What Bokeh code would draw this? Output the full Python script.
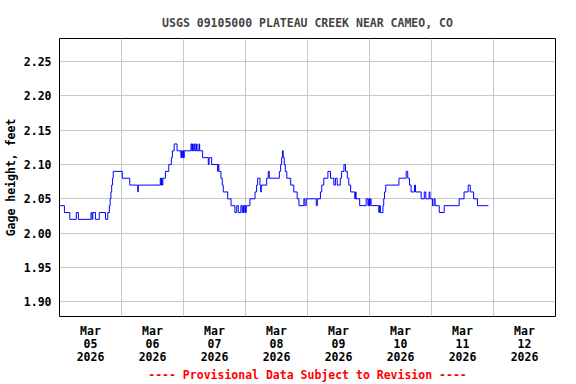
from bokeh.plotting import figure
from bokeh.models import Range1d, FixedTicker
from bokeh.embed import file_html
from bokeh.resources import INLINE

# ---------------- data ----------------
chart_title = "USGS 09105000 PLATEAU CREEK NEAR CAMEO, CO"
footer_text = "---- Provisional Data Subject to Revision ----"
y_axis_label = "Gage height, feet"
month_name = "Mar"
year_name = "2026"
day_names = ["05", "06", "07", "08", "09", "10", "11", "12"]
y_ticks = [1.90, 1.95, 2.00, 2.05, 2.10, 2.15, 2.20, 2.25]

# hours since 2026-03-05 00:00 at which the reading changes
hours = [0, 1.9, 4.0, 6.5, 7.3, 12.2, 12.6, 12.9, 13.9, 15.4, 17.8, 18.7,
         19.3, 19.6, 19.9, 20.2, 20.5, 20.8, 24.3, 27.2, 30.3, 30.5,
         39.0, 39.25, 39.5, 39.75, 40.0, 41.0, 42.3, 43.3, 43.7, 44.4,
         45.5, 47.0, 47.25, 47.5, 47.75, 48.0, 48.3, 50.9, 51.2, 51.5,
         51.75, 52.2, 52.5, 53.0, 53.25, 54.0, 54.25, 55.4, 57.6, 57.9,
         58.9, 61.2, 61.4, 61.7, 62.5, 63.0, 63.4, 65.1, 66.4, 67.9,
         68.6, 69.2, 70.2, 70.7, 71.0, 71.25, 71.5, 72.0, 72.3, 73.7,
         75.7, 76.3, 76.7, 77.6, 77.9, 78.1, 80.2, 80.8, 81.2, 85.1,
         85.6, 86.0, 86.3, 86.6, 87.0, 87.4, 88.0, 89.5, 90.7, 92.0,
         92.7, 94.6, 95.0, 95.5, 99.4, 99.8, 101.0, 101.5, 102.3, 103.9,
         104.9, 106.2, 106.8, 107.5, 108.7, 109.2, 110.1, 110.7, 111.4,
         112.0, 112.7, 114.3, 114.6, 114.8, 116.2, 118.7, 119.4, 119.7,
         120.0, 120.3, 120.6, 123.6, 123.9, 124.2, 125.2, 125.5, 125.8,
         126.3, 131.4, 134.2, 134.8, 135.5, 136.1, 137.4, 137.8, 140.0,
         141.2, 141.8, 143.1, 143.4, 144.4, 145.0, 145.4, 147.0, 148.9,
         154.7, 156.6, 158.2, 159.0, 160.3, 161.8, 166.0]
gage_ft = [2.04, 2.03, 2.02, 2.03, 2.02, 2.03, 2.02, 2.03, 2.02, 2.03, 2.02, 2.03,
           2.04, 2.05, 2.06, 2.07, 2.08, 2.09, 2.08, 2.07, 2.06, 2.07,
           2.08, 2.07, 2.08, 2.07, 2.08, 2.09, 2.10, 2.11, 2.12, 2.13,
           2.12, 2.11, 2.12, 2.11, 2.12, 2.11, 2.12, 2.13, 2.12, 2.13,
           2.12, 2.13, 2.12, 2.13, 2.12, 2.13, 2.12, 2.11, 2.10, 2.11,
           2.10, 2.09, 2.10, 2.09, 2.08, 2.07, 2.06, 2.05, 2.04, 2.03,
           2.04, 2.03, 2.04, 2.03, 2.04, 2.03, 2.04, 2.03, 2.04, 2.05,
           2.06, 2.07, 2.08, 2.07, 2.06, 2.07, 2.08, 2.09, 2.08, 2.09,
           2.10, 2.11, 2.12, 2.11, 2.10, 2.09, 2.08, 2.07, 2.06, 2.05,
           2.04, 2.05, 2.04, 2.05, 2.04, 2.05, 2.06, 2.07, 2.08, 2.09,
           2.08, 2.07, 2.08, 2.07, 2.08, 2.09, 2.10, 2.09, 2.08,
           2.07, 2.06, 2.05, 2.06, 2.05, 2.04, 2.05, 2.04, 2.05,
           2.04, 2.05, 2.04, 2.03, 2.04, 2.03, 2.04, 2.05, 2.06,
           2.07, 2.08, 2.09, 2.08, 2.07, 2.06, 2.07, 2.06, 2.05,
           2.06, 2.05, 2.06, 2.05, 2.04, 2.05, 2.04, 2.03, 2.04,
           2.05, 2.06, 2.07, 2.06, 2.05, 2.04, 2.04]

# ---------------- figure ----------------
FONT = "DejaVu Sans Mono"
n_days = len(day_names)

p = figure(width=576, height=384, output_backend="svg", toolbar_location=None,
           x_range=Range1d(0, 24 * n_days), y_range=Range1d(1.8784, 2.2837),
           min_border_left=58, min_border_right=21, min_border_top=38,
           min_border_bottom=68)

p.title.text = chart_title
p.title.align = "center"
p.title.text_font = FONT
p.title.text_font_size = "11.5px"
p.title.text_font_style = "bold"
p.title.standoff = 17

p.background_fill_color = "white"
p.border_fill_color = "white"
p.outline_line_color = "black"
p.outline_line_width = 1

# x axis: labels at noon, grid at midnight
label_pos = [24 * i + 12 for i in range(n_days)]
grid_pos = [24 * i for i in range(1, n_days)]
p.xaxis.ticker = FixedTicker(ticks=label_pos)
p.xaxis.major_label_overrides = {
    pos: f"{month_name}\n{d}\n{year_name}" for pos, d in zip(label_pos, day_names)}
p.xgrid.ticker = FixedTicker(ticks=grid_pos)

p.yaxis.ticker = FixedTicker(ticks=y_ticks)
p.yaxis.major_label_overrides = {t: f"{t:.2f}" for t in y_ticks}
p.ygrid.ticker = FixedTicker(ticks=y_ticks)
p.yaxis.axis_label = y_axis_label
p.yaxis.axis_label_standoff = 3

p.xaxis.axis_label = footer_text

for ax in (p.xaxis[0], p.yaxis[0]):
    ax.axis_line_color = None
    ax.major_tick_line_color = None
    ax.minor_tick_line_color = None
    ax.major_tick_out = 0
    ax.major_tick_in = 0
    ax.major_label_text_font = FONT
    ax.major_label_text_font_size = "11.5px"
    ax.major_label_text_font_style = "bold"
    ax.major_label_text_color = "black"
    ax.major_label_standoff = 8
    ax.axis_label_text_font = FONT
    ax.axis_label_text_font_size = "11.5px"
    ax.axis_label_text_font_style = "bold"
    ax.axis_label_text_color = "black"
p.xaxis.major_label_text_line_height = 0.94
p.xaxis.major_label_standoff = 7
p.xaxis.axis_label_standoff = 1
p.xaxis.axis_label_text_color = "#ff0000"

for g in (p.xgrid[0], p.ygrid[0]):
    g.grid_line_color = "#c8c8c8"
    g.grid_line_width = 1

p.step(hours, gage_ft, mode="after", line_color="#0000ff", line_width=1)

open("out.html", "w").write(file_html(p, INLINE))
